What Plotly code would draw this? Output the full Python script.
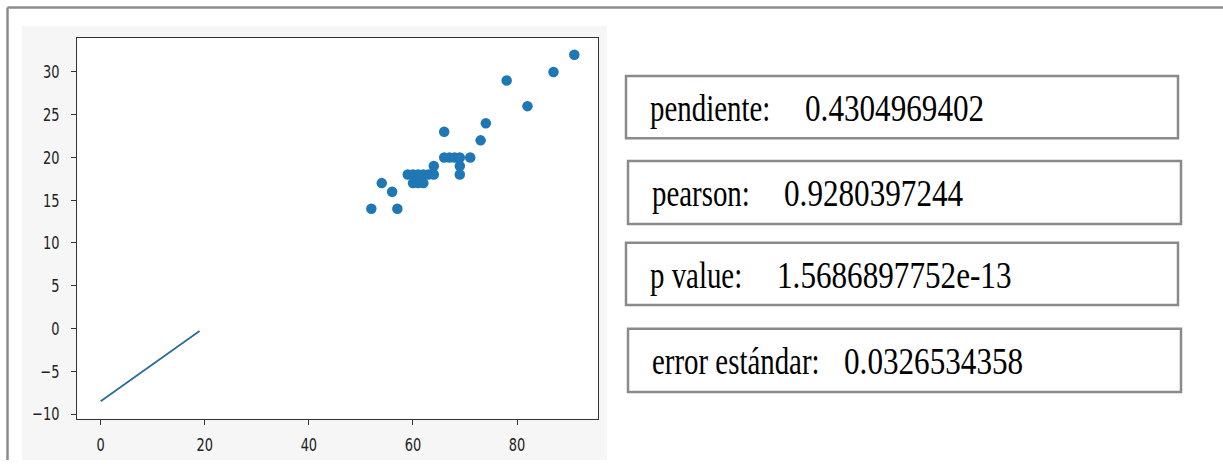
import plotly.graph_objects as go

# ---- data ----
scatter_x = [52, 54, 56, 57, 59, 60, 60, 61, 61, 62, 62, 63, 64, 64,
             66, 66, 67, 68, 69, 69, 69, 71, 73, 74, 78, 82, 87, 91]
scatter_y = [14, 17, 16, 14, 18, 18, 17, 18, 17, 18, 17, 18, 18, 19,
             23, 20, 20, 20, 20, 19, 18, 20, 22, 24, 29, 26, 30, 32]
line_x = [0, 19]
line_y = [-8.5, -0.3]

stat_labels = ["pendiente:", "pearson:", "p value:", "error estándar:"]
stat_values = ["0.4304969402", "0.9280397244", "1.5686897752e-13", "0.0326534358"]

x_ticks = [0, 20, 40, 60, 80]
y_ticks = [-10, -5, 0, 5, 10, 15, 20, 25, 30]

# ---- layout helpers (pixel -> paper) ----
W, H = 1223, 466
def fx(p):
    return p / W
def fy(p):
    return 1 - p / H

ax_l, ax_r, ax_t, ax_b = 77, 598, 38, 424

fig = go.Figure()
fig.add_trace(go.Scatter(x=line_x, y=line_y, mode="lines",
                         line=dict(color="#2a6f97", width=1.8),
                         showlegend=False, hoverinfo="skip"))
fig.add_trace(go.Scatter(x=scatter_x, y=scatter_y, mode="markers",
                         marker=dict(color="#1f77b4", size=10.5, line=dict(width=0)),
                         showlegend=False))

shapes = []
shapes.append(dict(type="rect", xref="paper", yref="paper", layer="below",
                   x0=fx(22), x1=fx(607), y0=fy(466), y1=fy(26),
                   fillcolor="#f6f6f6", line=dict(width=0)))
shapes.append(dict(type="rect", xref="paper", yref="paper", layer="below",
                   x0=fx(ax_l), x1=fx(ax_r), y0=fy(ax_b), y1=fy(ax_t),
                   fillcolor="white", line=dict(width=0)))
shapes.append(dict(type="line", xref="paper", yref="paper",
                   x0=fx(7.5), x1=fx(1223), y0=fy(7.5), y1=fy(7.5),
                   line=dict(color="#8c8c8c", width=2.5)))
shapes.append(dict(type="line", xref="paper", yref="paper",
                   x0=fx(7.5), x1=fx(7.5), y0=fy(7.5), y1=fy(466),
                   line=dict(color="#8c8c8c", width=2.5)))

boxes = [(626, 1178, 77, 140), (628, 1181, 163, 227),
         (626, 1178, 246, 309), (628, 1181, 333, 397)]
label_x = [648, 650, 648, 650]
value_x = [803, 782, 775, 842]

serif = "Liberation Serif, Times New Roman, serif"
annotations = []
for i, (x0, x1, y0, y1) in enumerate(boxes):
    shapes.append(dict(type="rect", xref="paper", yref="paper",
                       x0=fx(x0), x1=fx(x1), y0=fy(y1), y1=fy(y0),
                       fillcolor="white", line=dict(color="#8a8a8a", width=2.5)))
    yc = fy((y0 + y1) / 2 + 1)
    annotations.append(dict(xref="paper", yref="paper", x=fx(label_x[i]), y=yc,
                            xanchor="left", yanchor="middle", showarrow=False,
                            text=stat_labels[i], name="lbl",
                            font=dict(family=serif, size=38, color="black")))
    annotations.append(dict(xref="paper", yref="paper", x=fx(value_x[i]), y=yc,
                            xanchor="left", yanchor="middle", showarrow=False,
                            text=stat_values[i], name="val",
                            font=dict(family=serif, size=38, color="black")))

axis_common = dict(showline=True, mirror=True, linecolor="#333333", linewidth=1,
                   ticks="outside", ticklen=5, tickcolor="#333333", tickwidth=1,
                   showgrid=False, zeroline=False,
                   tickfont=dict(family="DejaVu Sans", size=18, color="#222222"))

fig.update_layout(
    width=W, height=H,
    margin=dict(l=0, r=0, t=0, b=0),
    paper_bgcolor="white", plot_bgcolor="rgba(0,0,0,0)",
    shapes=shapes, annotations=annotations,
    xaxis=dict(domain=[fx(ax_l), fx(ax_r)], range=[-4.55, 95.55],
               tickmode="array", tickvals=x_ticks, ticklabelstandoff=5, **axis_common),
    yaxis=dict(domain=[fy(ax_b), fy(ax_t)], range=[-10.525, 34.025],
               tickmode="array", tickvals=y_ticks, ticklabelstandoff=8, **axis_common),
)

# The reference image is horizontally squeezed; reproduce it on the real text.
post = """
document.body.style.margin = '0';
var gd = document.getElementById('{plot_id}');
function squeeze(el, s, mode) {
  var b = el.getBBox();
  var ox = mode === 'left' ? b.x : (mode === 'right' ? b.x + b.width : b.x + b.width / 2);
  var old = el.getAttribute('transform') || '';
  el.setAttribute('transform', old + ' translate(' + ox + ',0) scale(' + s + ',1) translate(' + (-ox) + ',0)');
}
gd.querySelectorAll('.xtick text').forEach(function (el) { squeeze(el, 0.72, 'center'); });
gd.querySelectorAll('.ytick text').forEach(function (el) { squeeze(el, 0.72, 'right'); });
gd.querySelectorAll('.annotation-text').forEach(function (el, i) {
  squeeze(el, (i % 2 === 0) ? 0.76 : 0.82, 'left');
});
"""

fig.write_html("out.html", post_script=post, config={"displayModeBar": False})
